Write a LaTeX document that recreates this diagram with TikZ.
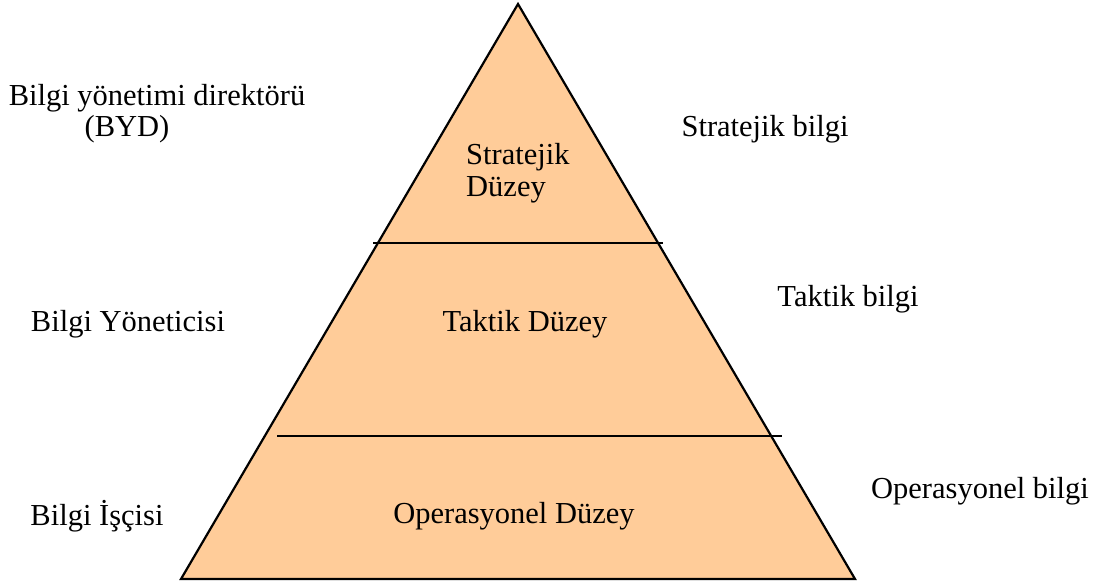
\documentclass[tikz,border=0pt]{standalone}
\usepackage{fontspec}
\setmainfont{Liberation Serif}
\definecolor{peach}{HTML}{FFCC99}
\begin{document}
\begin{tikzpicture}[x=1pt,y=-1pt,
  lbl/.style={font=\fontsize{30.5}{34}\selectfont, inner sep=0pt},
  sep/.style={line width=2pt}]
\useasboundingbox (0,0) rectangle (1100,585);
% pyramid
\coordinate (top) at (518,4);
\coordinate (bl) at (181,579);
\coordinate (br) at (855,579);
\filldraw[fill=peach, line width=2.2pt, line join=miter] (top) -- (br) -- (bl) -- cycle;
% level separators
\coordinate (s1a) at (373,243.5);
\coordinate (s1b) at (663,243.5);
\coordinate (s2a) at (277,436);
\coordinate (s2b) at (782,436);
\draw[sep] (s1a) -- (s1b);
\draw[sep] (s2a) -- (s2b);
% levels
\node[lbl, anchor=west] (strat1) at (466,157) {Stratejik};
\node[lbl, anchor=west] (strat2) at (466,190) {Düzey};
\node[lbl] (takt) at (525,324) {Taktik Düzey};
\node[lbl] (oper) at (514,516) {Operasyonel Düzey};
% roles
\node[lbl] (byd1) at (157,98) {Bilgi yönetimi direktörü};
\node[lbl] (byd2) at (127,129) {(BYD)};
\node[lbl] (yon) at (128,324) {Bilgi Yöneticisi};
\node[lbl] (isci) at (97,516) {Bilgi İşçisi};
% knowledge types
\node[lbl] (sb) at (765,129) {Stratejik bilgi};
\node[lbl] (tb) at (848,299) {Taktik bilgi};
\node[lbl] (ob) at (980,491) {Operasyonel bilgi};
\end{tikzpicture}
\end{document}
